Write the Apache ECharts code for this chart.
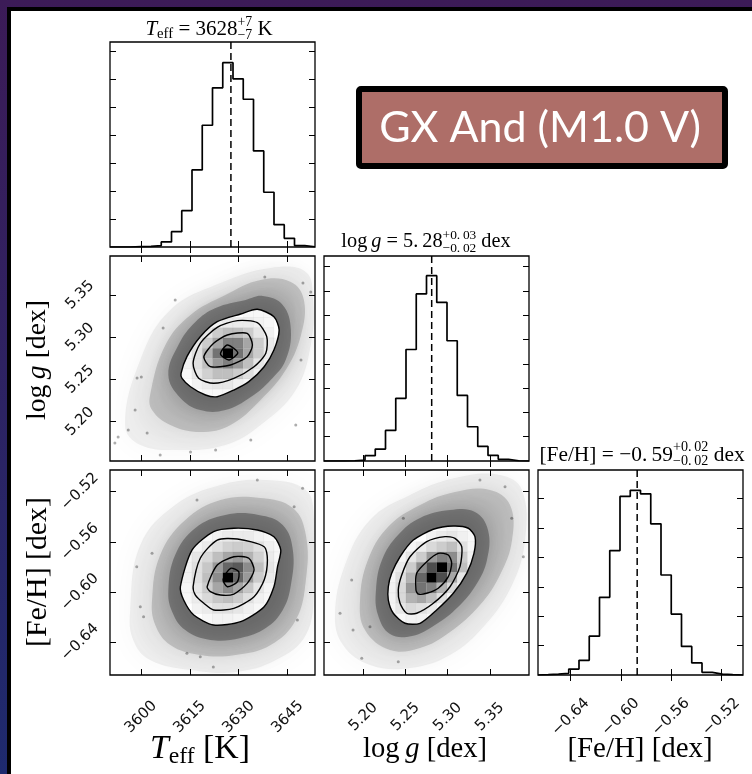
<!DOCTYPE html>
<html>
<head>
<meta charset="utf-8">
<script src="https://cdn.jsdelivr.net/npm/echarts@6/dist/echarts.min.js"></script>
<style>
html, body { margin: 0; padding: 0; background: #fff; }
#c { width: 752px; height: 774px; }
</style>
</head>
<body>
<div id="c"></div>
<script>
// axis ranges and ticks
const teffRange = [3590.5, 3653.4];
const loggRange = [5.1534, 5.3963];
const fehRange = [-0.666, -0.5027];
const teffTicks = [3600, 3615, 3630, 3645];
const loggTicks = [5.20, 5.25, 5.30, 5.35];
const fehTicks = [-0.64, -0.60, -0.56, -0.52];

// 1D histograms (20 bins over the axis range)
const teffHist = [0, 0, 0.01, 0.02, 0.05, 0.18, 0.55, 1.30, 2.76, 4.36, 5.70, 6.60, 6.02, 5.29, 3.44, 1.96, 0.80, 0.31, 0.05, 0.01];
const loggHist = [0, 0, 0.01, 0.04, 0.22, 0.49, 1.26, 2.58, 4.59, 6.88, 7.63, 6.53, 4.95, 2.70, 1.41, 0.60, 0.23, 0.07, 0.01, 0];
const fehHist = [0.01, 0.03, 0.06, 0.20, 0.50, 1.32, 2.64, 4.23, 6.07, 6.28, 6.16, 5.14, 3.40, 2.07, 0.97, 0.41, 0.09, 0.03, 0.01, 0];
const teffHistTicks = [1, 2, 3, 4, 5, 6, 7];
const loggHistTicks = [1, 2, 3, 4, 5, 6, 7, 8];
const fehHistTicks = [1, 2, 3, 4, 5, 6];
const teffHistMax = 7.34, loggHistMax = 8.44, fehHistMax = 6.97;
const teffMed = 3627.6, loggMed = 5.281, fehMed = -0.587;

// Teff vs log g
const envTeffLoggOuter = [[3595.1,5.1961],[3599.8,5.2731],[3609.0,5.3323],[3624.4,5.3643],[3639.8,5.3821],[3650.6,5.3774],[3652.8,5.3442],[3652.1,5.2909],[3647.5,5.2375],[3636.7,5.1961],[3625.9,5.1724],[3612.1,5.1664],[3599.8,5.1724]];
const envTeffLoggMid = [[3602.8,5.2316],[3607.5,5.2909],[3615.2,5.3264],[3625.9,5.3501],[3636.7,5.3679],[3646.0,5.3655],[3650.0,5.3442],[3649.1,5.3027],[3644.4,5.2612],[3636.7,5.2257],[3627.5,5.1961],[3618.2,5.1878],[3609.0,5.1961],[3603.4,5.2138]];
const envTeffLoggInner = [[3608.4,5.2553],[3611.5,5.2909],[3616.7,5.3181],[3622.9,5.3347],[3632.1,5.3442],[3637.4,5.3489],[3643.5,5.3383],[3646.0,5.3086],[3644.4,5.2731],[3639.8,5.2494],[3633.7,5.2292],[3625.9,5.2138],[3618.2,5.2138],[3612.1,5.2281]];
const dotsTeffLogg = [[3592.0,5.1747],[3593.0,5.1818],[3598.8,5.2518],[3600.1,5.2529],[3601.9,5.1866],[3606.8,5.3110],[3610.5,5.3442],[3638.0,5.3714],[3649.7,5.3643],[3652.1,5.3537],[3647.5,5.1961],[3615.2,5.1641],[3622.9,5.1664],[3633.7,5.1783],[3605.9,5.1605],[3649.1,5.2731],[3598.2,5.2138],[3596.1,5.1901]];
const contTeffLogg1 = [[3612.3,5.2573],[3614.1,5.2770],[3618.2,5.3007],[3623.4,5.3185],[3630.6,5.3276],[3635.7,5.3332],[3640.8,5.3244],[3642.4,5.3086],[3640.8,5.2849],[3637.8,5.2651],[3633.1,5.2474],[3628.5,5.2375],[3623.4,5.2296],[3619.8,5.2316],[3615.2,5.2414],[3612.6,5.2514]];
const contTeffLogg2 = [[3616.0,5.2692],[3618.2,5.2929],[3623.4,5.3118],[3629.6,5.3197],[3635.7,5.3173],[3638.6,5.3007],[3638.3,5.2810],[3634.7,5.2651],[3628.5,5.2514],[3622.3,5.2455],[3617.7,5.2514]];
const contTeffLogg3 = [[3619.3,5.2770],[3622.3,5.2929],[3626.5,5.3027],[3632.6,5.3047],[3634.2,5.2909],[3632.6,5.2770],[3627.5,5.2672],[3621.3,5.2652]];
const contTeffLogg4 = [[3624.4,5.2802],[3626.5,5.2909],[3629.7,5.2817],[3627.0,5.2731]];
// rows: [y bin, first x bin, darkness...]
const cellsTeffLogg = [
  [14, 13, 0.03, 0.03, 0.03],
  [13, 10, 0.05, 0.08, 0.08, 0.08, 0.05, 0.03],
  [12, 8, 0.05, 0.10, 0.20, 0.25, 0.25, 0.20, 0.10, 0.05],
  [11, 7, 0.03, 0.10, 0.20, 0.35, 0.50, 0.50, 0.35, 0.20, 0.08, 0.03],
  [10, 7, 0.05, 0.12, 0.30, 0.55, 1.00, 0.55, 0.35, 0.20, 0.08, 0.03],
  [9, 7, 0.05, 0.12, 0.25, 0.40, 0.50, 0.40, 0.25, 0.10, 0.05],
  [8, 7, 0.03, 0.10, 0.18, 0.25, 0.25, 0.20, 0.12, 0.05],
  [7, 8, 0.05, 0.08, 0.10, 0.10, 0.06, 0.03],
  [6, 9, 0.03, 0.03, 0.03]
];

// Teff vs [Fe/H]
const envTeffFehOuter = [[3596.7,-0.6142],[3599.8,-0.5624],[3610.5,-0.5306],[3624.4,-0.5146],[3638.3,-0.5107],[3650.6,-0.5186],[3653.1,-0.5425],[3653.1,-0.5983],[3650.6,-0.6341],[3641.4,-0.6541],[3629.0,-0.6636],[3615.2,-0.6620],[3602.8,-0.6541],[3597.6,-0.6381]];
const envTeffFehMid = [[3603.4,-0.6063],[3605.9,-0.5704],[3613.6,-0.5425],[3624.4,-0.5266],[3636.7,-0.5250],[3646.6,-0.5330],[3650.6,-0.5545],[3650.6,-0.5903],[3647.5,-0.6222],[3639.8,-0.6421],[3629.0,-0.6501],[3618.2,-0.6501],[3609.0,-0.6421],[3604.4,-0.6262]];
const envTeffFehInner = [[3608.4,-0.5983],[3610.5,-0.5704],[3616.7,-0.5489],[3625.9,-0.5385],[3636.1,-0.5385],[3643.5,-0.5465],[3646.6,-0.5664],[3646.0,-0.5943],[3643.5,-0.6142],[3638.3,-0.6286],[3630.6,-0.6365],[3621.3,-0.6381],[3613.6,-0.6302],[3609.6,-0.6158]];
const dotsTeffFeh = [[3598.7,-0.5797],[3600.8,-0.6196],[3603.4,-0.5691],[3617.2,-0.5266],[3635.7,-0.5107],[3647.0,-0.5319],[3649.6,-0.5173],[3618.2,-0.6514],[3614.1,-0.6487],[3599.8,-0.6116],[3622.2,-0.6596],[3648.0,-0.6222]];
const contTeffFeh1 = [[3612.1,-0.5957],[3615.7,-0.5664],[3622.3,-0.5518],[3628.5,-0.5491],[3635.7,-0.5505],[3640.8,-0.5558],[3642.9,-0.5664],[3641.9,-0.5797],[3640.8,-0.5957],[3637.8,-0.6116],[3630.6,-0.6235],[3622.3,-0.6262],[3616.2,-0.6182],[3613.1,-0.6063]];
const contTeffFeh2 = [[3616.0,-0.5957],[3618.2,-0.5730],[3623.4,-0.5585],[3629.6,-0.5577],[3637.8,-0.5638],[3638.8,-0.5744],[3637.8,-0.5903],[3634.7,-0.6036],[3628.5,-0.6129],[3622.3,-0.6142],[3619.3,-0.6089],[3616.7,-0.6023]];
const contTeffFeh3 = [[3620.3,-0.5957],[3623.4,-0.5784],[3628.5,-0.5718],[3633.1,-0.5730],[3634.7,-0.5824],[3632.6,-0.5930],[3628.5,-0.6015],[3624.4,-0.6023],[3621.3,-0.5996]];
const contTeffFeh4 = [[3625.2,-0.5898],[3627.5,-0.5810],[3630.0,-0.5837],[3629.6,-0.5917],[3626.5,-0.5957]];
const cellsTeffFeh = [
  [14, 11, 0.03, 0.03, 0.03, 0.03],
  [13, 9, 0.03, 0.06, 0.08, 0.08, 0.08, 0.05, 0.03],
  [12, 8, 0.04, 0.08, 0.12, 0.18, 0.20, 0.18, 0.12, 0.06, 0.03],
  [11, 7, 0.04, 0.10, 0.15, 0.25, 0.35, 0.40, 0.30, 0.18, 0.08, 0.03],
  [10, 7, 0.05, 0.12, 0.22, 0.40, 0.60, 0.65, 0.45, 0.25, 0.10, 0.04],
  [9, 7, 0.05, 0.12, 0.25, 0.45, 1.00, 0.60, 0.40, 0.20, 0.08, 0.03],
  [8, 7, 0.04, 0.10, 0.20, 0.35, 0.45, 0.35, 0.22, 0.10, 0.04],
  [7, 7, 0.03, 0.08, 0.15, 0.22, 0.25, 0.20, 0.12, 0.06, 0.03],
  [6, 8, 0.05, 0.08, 0.12, 0.12, 0.10, 0.06, 0.03],
  [5, 9, 0.03, 0.05, 0.05, 0.04, 0.03]
];

// log g vs [Fe/H]
const envLoggFehOuter = [[5.1664,-0.6182],[5.1783,-0.5784],[5.2079,-0.5425],[5.2553,-0.5226],[5.3086,-0.5091],[5.3619,-0.5067],[5.3880,-0.5186],[5.3916,-0.5585],[5.3762,-0.5943],[5.3442,-0.6262],[5.3027,-0.6501],[5.2553,-0.6604],[5.2079,-0.6580],[5.1759,-0.6421]];
const envLoggFehMid = [[5.1961,-0.6063],[5.2055,-0.5744],[5.2292,-0.5481],[5.2672,-0.5306],[5.3086,-0.5202],[5.3501,-0.5186],[5.3738,-0.5306],[5.3762,-0.5585],[5.3619,-0.5863],[5.3382,-0.6102],[5.3027,-0.6317],[5.2672,-0.6445],[5.2316,-0.6461],[5.2020,-0.6302]];
const envLoggFehInner = [[5.2150,-0.5983],[5.2221,-0.5744],[5.2411,-0.5545],[5.2672,-0.5409],[5.3027,-0.5346],[5.3323,-0.5362],[5.3477,-0.5505],[5.3465,-0.5744],[5.3335,-0.5943],[5.3122,-0.6118],[5.2849,-0.6262],[5.2577,-0.6349],[5.2316,-0.6333],[5.2174,-0.6182]];
const dotsLoggFeh = [[5.1724,-0.6168],[5.1862,-0.5903],[5.2079,-0.6275],[5.1981,-0.6527],[5.2414,-0.6554],[5.3679,-0.5160],[5.3758,-0.5412],[5.3896,-0.5718],[5.3382,-0.5107],[5.1878,-0.6302],[5.2474,-0.5412]];
const contLoggFeh1 = [[5.2296,-0.5957],[5.2336,-0.5850],[5.2435,-0.5718],[5.2592,-0.5585],[5.2829,-0.5499],[5.3066,-0.5473],[5.3244,-0.5491],[5.3323,-0.5558],[5.3311,-0.5691],[5.3225,-0.5850],[5.3066,-0.6009],[5.2869,-0.6142],[5.2672,-0.6248],[5.2494,-0.6248],[5.2355,-0.6168],[5.2296,-0.6063]];
const contLoggFeh2 = [[5.2414,-0.5983],[5.2455,-0.5863],[5.2553,-0.5718],[5.2751,-0.5598],[5.2968,-0.5558],[5.3086,-0.5571],[5.3166,-0.5638],[5.3145,-0.5797],[5.3027,-0.5957],[5.2829,-0.6089],[5.2632,-0.6168],[5.2514,-0.6168],[5.2435,-0.6089]];
const contLoggFeh3 = [[5.2624,-0.5983],[5.2632,-0.5850],[5.2751,-0.5757],[5.2888,-0.5691],[5.3007,-0.5704],[5.3047,-0.5770],[5.3007,-0.5877],[5.2888,-0.5969],[5.2751,-0.6009],[5.2651,-0.6015]];
const cellsLoggFeh = [
  [14, 11, 0.03, 0.05, 0.03],
  [13, 10, 0.05, 0.08, 0.10, 0.06, 0.03],
  [12, 8, 0.04, 0.08, 0.15, 0.20, 0.25, 0.12, 0.04],
  [11, 7, 0.04, 0.10, 0.20, 0.40, 0.50, 0.45, 0.20, 0.05],
  [10, 6, 0.03, 0.08, 0.20, 0.45, 0.70, 1.00, 0.55, 0.25, 0.05],
  [9, 6, 0.04, 0.12, 0.30, 0.60, 1.00, 0.70, 0.35, 0.10],
  [8, 6, 0.05, 0.15, 0.40, 0.55, 0.50, 0.30, 0.15, 0.04],
  [7, 6, 0.05, 0.15, 0.30, 0.35, 0.25, 0.12, 0.04],
  [6, 6, 0.04, 0.10, 0.15, 0.12, 0.08, 0.03],
  [5, 7, 0.03, 0.05, 0.05, 0.03]
];

const SERIF = '"Liberation Serif", "DejaVu Serif", serif';
const teffTitle = [['T', 'i'], ['eff', 'b'], [' = 3628', 'n'], ['+7', 's', '\u22127'], [' K', 'n']];
const loggTitle = [['log\u2009', 'n'], ['g', 'i'], [' = 5.\u200928', 'n'], ['+0.\u200903', 's', '\u22120.\u200902'], [' dex', 'n']];
const fehTitle = [['[Fe/H] = \u22120.\u200959', 'n'], ['+0.\u200902', 's', '\u22120.\u200902'], [' dex', 'n']];
const teffName = [['T', 'i'], ['eff', 'b'], [' [K]', 'n']];
const loggName = [['log\u2009', 'n'], ['g', 'i'], [' [dex]', 'n']];
const fehName = [['[Fe/H] [dex]', 'n']];

const chart = echarts.init(document.getElementById('c'));
const colLeft = [110, 324, 538], rowTop = [42, 256, 470], SIZE = 205;
const fmtFeh = v => v.toFixed(2).replace('-', '\u2212');

const grid = [], xAxis = [], yAxis = [], series = [];

function axis(gi, pos, range, ticks, fmt, showLabel, margin) {
  return {
    type: 'value', gridIndex: gi, position: pos, min: range[0], max: range[1],
    axisLine: { show: false }, splitLine: { show: false },
    axisTick: { show: true, inside: true, length: 6, customValues: ticks, lineStyle: { color: '#000', width: 1 } },
    axisLabel: { show: showLabel, customValues: ticks, formatter: fmt, rotate: 45, align: 'center', verticalAlign: 'middle',
      margin: margin, color: '#111', fontFamily: 'DejaVu Sans', fontSize: 15 }
  };
}

function addPanel(k, col, row, xr, xt, xf, yr, yt, yf) {
  grid.push({ left: colLeft[col], top: rowTop[row], width: SIZE, height: SIZE, show: true,
    borderColor: '#000', borderWidth: 1.3, backgroundColor: 'rgba(0,0,0,0)' });
  xAxis.push(axis(k, 'bottom', xr, xt, xf, row === 2, 42));
  xAxis.push(axis(k, 'top', xr, xt, xf, false, 0));
  yAxis.push(axis(k, 'left', yr, yt, yf, col === 0 && row > 0, 30));
  yAxis.push(axis(k, 'right', yr, yt, yf, false, 0));
}

function histPanel(k, range, h, med, hmax) {
  const bw = (range[1] - range[0]) / h.length;
  const pts = [[range[0], 0]];
  h.forEach((v, i) => pts.push([range[0] + i * bw, v]));
  pts.push([range[1], 0]);
  series.push({ type: 'line', xAxisIndex: 2 * k, yAxisIndex: 2 * k, step: 'end', symbol: 'none', silent: true,
    data: pts, lineStyle: { color: '#000', width: 1.7 } });
  series.push({ type: 'line', xAxisIndex: 2 * k, yAxisIndex: 2 * k, symbol: 'none', silent: true,
    data: [[med, 0], [med, hmax]], lineStyle: { color: '#000', width: 1.5, type: [7, 4] } });
}

function poly(k, pts, style, smooth) {
  return { type: 'custom', xAxisIndex: 2 * k, yAxisIndex: 2 * k, silent: true, clip: true, data: [pts[0]],
    renderItem: (p, api) => ({ type: 'polygon', shape: { points: pts.map(q => api.coord(q)), smooth: smooth }, style: style }) };
}

function densePanel(k, xr, yr, env, dots, conts, cells) {
  series.push(poly(k, env[0], { fill: 'rgba(60,60,60,0.07)', shadowBlur: 30, shadowColor: 'rgba(60,60,60,0.5)' }, 0.4));
  series.push(poly(k, env[1], { fill: 'rgba(50,50,50,0.2)', shadowBlur: 26, shadowColor: 'rgba(50,50,50,0.6)' }, 0.4));
  series.push(poly(k, env[2], { fill: 'rgba(40,40,40,0.4)', shadowBlur: 20, shadowColor: 'rgba(40,40,40,0.6)' }, 0.4));
  series.push({ type: 'scatter', xAxisIndex: 2 * k, yAxisIndex: 2 * k, silent: true, symbolSize: 3,
    itemStyle: { color: 'rgba(0,0,0,0.4)' }, data: dots });
  const outer = conts[0];
  series.push({ type: 'custom', xAxisIndex: 2 * k, yAxisIndex: 2 * k, silent: true, data: [outer[0]],
    renderItem: (p, api) => {
      const bw = (xr[1] - xr[0]) / 20, bh = (yr[1] - yr[0]) / 20;
      const ring = outer.map(q => api.coord(q));
      const kids = [{ type: 'polygon', shape: { points: ring, smooth: 0.25 }, style: { fill: '#fff' } }];
      cells.forEach(r => r.slice(2).forEach((d, n) => {
        const i = r[1] + n, j = r[0];
        const a = api.coord([xr[0] + i * bw, yr[0] + (j + 1) * bh]);
        const b = api.coord([xr[0] + (i + 1) * bw, yr[0] + j * bh]);
        const g = Math.round(255 * (1 - d));
        kids.push({ type: 'rect', shape: { x: a[0], y: a[1], width: b[0] - a[0], height: b[1] - a[1] },
          style: { fill: 'rgb(' + g + ',' + g + ',' + g + ')', stroke: 'rgba(0,0,0,0.05)', lineWidth: 0.6 } });
      }));
      return { type: 'group', children: kids, clipPath: { type: 'polygon', shape: { points: ring, smooth: 0.25 } } };
    } });
  conts.forEach(c => series.push(poly(k, c, { fill: 'none', stroke: '#000', lineWidth: 1.4 }, 0.25)));
}

addPanel(0, 0, 0, teffRange, teffTicks, String, [0, teffHistMax], teffHistTicks, () => '');
addPanel(1, 0, 1, teffRange, teffTicks, String, loggRange, loggTicks, v => v.toFixed(2));
addPanel(2, 1, 1, loggRange, loggTicks, v => v.toFixed(2), [0, loggHistMax], loggHistTicks, () => '');
addPanel(3, 0, 2, teffRange, teffTicks, String, fehRange, fehTicks, fmtFeh);
addPanel(4, 1, 2, loggRange, loggTicks, v => v.toFixed(2), fehRange, fehTicks, fmtFeh);
addPanel(5, 2, 2, fehRange, fehTicks, fmtFeh, [0, fehHistMax], fehHistTicks, () => '');

histPanel(0, teffRange, teffHist, teffMed, teffHistMax);
histPanel(2, loggRange, loggHist, loggMed, loggHistMax);
histPanel(5, fehRange, fehHist, fehMed, fehHistMax);
densePanel(1, teffRange, loggRange, [envTeffLoggOuter, envTeffLoggMid, envTeffLoggInner], dotsTeffLogg,
  [contTeffLogg1, contTeffLogg2, contTeffLogg3, contTeffLogg4], cellsTeffLogg);
densePanel(3, teffRange, fehRange, [envTeffFehOuter, envTeffFehMid, envTeffFehInner], dotsTeffFeh,
  [contTeffFeh1, contTeffFeh2, contTeffFeh3, contTeffFeh4], cellsTeffFeh);
densePanel(4, loggRange, fehRange, [envLoggFehOuter, envLoggFehMid, envLoggFehInner], dotsLoggFeh,
  [contLoggFeh1, contLoggFeh2, contLoggFeh3], cellsLoggFeh);

// math-like text built from pieces, scaled to a target width
const mctx = document.createElement('canvas').getContext('2d');
function fontOf(size, italic) { return (italic ? 'italic ' : '') + size.toFixed(1) + 'px ' + SERIF; }
function tw(t, size, italic) { mctx.font = fontOf(size, italic); return mctx.measureText(t).width; }
function layout(parts, size, put) {
  let x = 0;
  parts.forEach(p => {
    if (p[1] === 's') {
      const s = size * 0.66;
      put(p[0], x, -size * 0.34, s, false);
      put(p[2], x, size * 0.3, s, false);
      x += Math.max(tw(p[0], s, false), tw(p[2], s, false));
    } else if (p[1] === 'b') {
      const s = size * 0.7;
      put(p[0], x, size * 0.24, s, false);
      x += tw(p[0], s, false);
    } else {
      put(p[0], x, 0, size, p[1] === 'i');
      x += tw(p[0], size, p[1] === 'i');
    }
  });
  return x;
}
function mathText(parts, cx, cy, width, rot) {
  const size = 20 * width / layout(parts, 20, () => {});
  const kids = [];
  const w = layout(parts, size, (t, dx, dy, s, it) => kids.push({ type: 'text', x: dx, y: dy,
    style: { text: t, font: fontOf(s, it), fill: '#000', align: 'left', verticalAlign: 'middle' } }));
  kids.forEach(c => { c.x -= w / 2; });
  return { type: 'group', x: cx, y: cy, rotation: rot || 0, children: kids, z: 50 };
}

const boxText = 'GX And (M1.0 V)';
mctx.font = '40px Lato';
const boxSize = 40 * 322 / mctx.measureText(boxText).width;

const graphic = [
  { type: 'rect', z: -10, silent: true, shape: { x: 0, y: 0, width: 752, height: 774 },
    style: { fill: { type: 'linear', x: 0, y: 0, x2: 0, y2: 1, colorStops: [{ offset: 0, color: '#3c1b57' }, { offset: 1, color: '#1e2a6e' }] } } },
  { type: 'rect', z: -9, silent: true, shape: { x: 7, y: 7, width: 745, height: 767 }, style: { fill: '#000' } },
  { type: 'rect', z: -8, silent: true, shape: { x: 11, y: 11, width: 741, height: 763 }, style: { fill: '#fff' } },
  { type: 'rect', z: 60, shape: { x: 359, y: 89, width: 366, height: 77, r: 2 }, style: { fill: '#ae6e68', stroke: '#000', lineWidth: 6 } },
  { type: 'text', z: 61, x: 540, y: 128, style: { text: boxText, font: boxSize.toFixed(1) + 'px Lato', fill: '#fff', align: 'center', verticalAlign: 'middle' } },
  mathText(teffTitle, 209, 29, 127),
  mathText(loggTitle, 426, 242, 169),
  mathText(fehTitle, 642, 455, 205),
  mathText(teffName, 200, 749, 100),
  mathText(loggName, 425, 749, 124),
  mathText(fehName, 640, 749, 145),
  mathText(loggName, 38, 360, 120, Math.PI / 2),
  mathText(fehName, 38, 572, 150, Math.PI / 2)
];

chart.setOption({
  animation: false,
  backgroundColor: '#fff',
  grid: grid,
  xAxis: xAxis,
  yAxis: yAxis,
  series: series,
  graphic: graphic
});
</script>
</body>
</html>
